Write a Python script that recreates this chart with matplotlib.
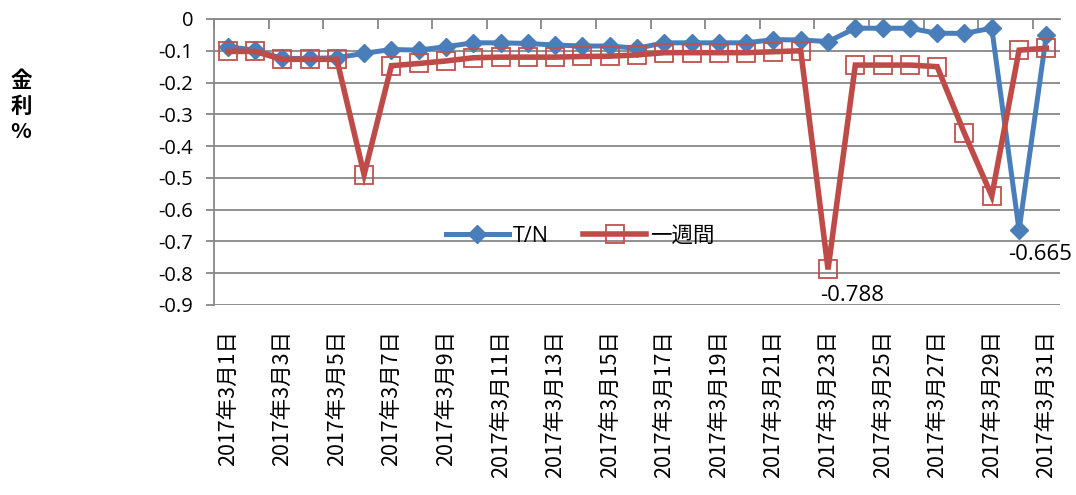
import matplotlib
matplotlib.use("Agg")
import matplotlib.pyplot as plt
import numpy as np

days = list(range(1, 32))
tick_labels = [f"2017年3月{d}日" for d in days]
tn = [-0.087, -0.098, -0.124, -0.124, -0.122, -0.108, -0.096, -0.098, -0.087, -0.075,
      -0.075, -0.077, -0.082, -0.085, -0.085, -0.092, -0.075, -0.075, -0.075, -0.075,
      -0.065, -0.066, -0.071, -0.029, -0.029, -0.029, -0.045, -0.045, -0.029, -0.665,
      -0.05]
week = [-0.102, -0.102, -0.127, -0.127, -0.127, -0.49, -0.147, -0.14, -0.132, -0.122,
        -0.12, -0.12, -0.12, -0.118, -0.117, -0.113, -0.106, -0.106, -0.106, -0.106,
        -0.103, -0.1, -0.788, -0.145, -0.145, -0.145, -0.15, -0.36, -0.557, -0.098,
        -0.092]
series_names = ["T/N", "一週間"]
ylabel = "金\n利\n%"
yticks = [0, -0.1, -0.2, -0.3, -0.4, -0.5, -0.6, -0.7, -0.8, -0.9]

plt.rcParams['font.family'] = ['Open Sans', 'Noto Sans CJK JP', 'DejaVu Sans']

blue = "#4A7EBB"
red = "#BE4B48"
grid = "#878787"

fig = plt.figure(figsize=(10.76, 4.95), dpi=100)
ax = fig.add_axes([214/1076, 1-305/495, 846/1076, 286/495])

x = np.array(days)
ax.plot(x, tn, color=blue, lw=3.6, marker='D', ms=9.5, mfc=blue, mec=blue,
        label=series_names[0], zorder=3, solid_joinstyle='miter')
ax.plot(x, week, color=red, lw=4.0, marker='s', ms=13, mfc='none', mec="#C0504D",
        mew=1.3, label=series_names[1], zorder=4, solid_joinstyle='miter')

ax.set_xlim(0.5, 31.5)
ax.set_ylim(-0.9, 0)
ax.set_yticks(yticks)
ax.set_yticklabels([("0" if v == 0 else f"{v:.1f}") for v in yticks])
for v in yticks:
    ax.axhline(v, color=grid, lw=1.3, zorder=1)

for s in ['right', 'bottom']:
    ax.spines[s].set_visible(False)
ax.spines['left'].set_color(grid)
ax.spines['left'].set_linewidth(1.3)
ax.spines['top'].set_color(grid)
ax.spines['top'].set_linewidth(1.3)

ax.tick_params(axis='y', direction='out', length=6, width=1.3, color=grid,
               labelsize=14.5, pad=9)

# category labels at bottom, every second day
ax.set_xticks(x[::2])
ax.set_xticklabels(tick_labels[::2], rotation=90, fontsize=15.5,
                   family=['Noto Sans CJK JP', 'DejaVu Sans'])
ax.tick_params(axis='x', which='major', length=0, pad=18, bottom=True, top=False)
ax.set_xticks(np.arange(0.5, 31, 2), minor=True)
ax.tick_params(axis='x', which='minor', top=True, bottom=False, direction='in',
               length=7, width=1.3, color=grid)

# data labels
ax.annotate("-0.788", (23, week[22]), xytext=(-6, -11), textcoords='offset points',
            ha='left', va='top', fontsize=16)
ax.annotate("-0.665", (30, tn[29]), xytext=(-8, -10), textcoords='offset points',
            ha='left', va='top', fontsize=16, annotation_clip=False)

leg = ax.legend(loc='center', bbox_to_anchor=(0.433, 0.24), ncol=2, frameon=False,
                handlelength=2.9, columnspacing=1.6, handletextpad=0.2,
                prop={'family': ['Open Sans', 'Noto Sans CJK JP'], 'size': 15.5})

fig.text(21/1076, 1-106/495, ylabel, ha='center', va='center', fontsize=15.5,
         fontweight='bold', family=['Noto Sans CJK JP', 'DejaVu Sans'], linespacing=1.25)

fig.savefig("out.png", dpi=100)
